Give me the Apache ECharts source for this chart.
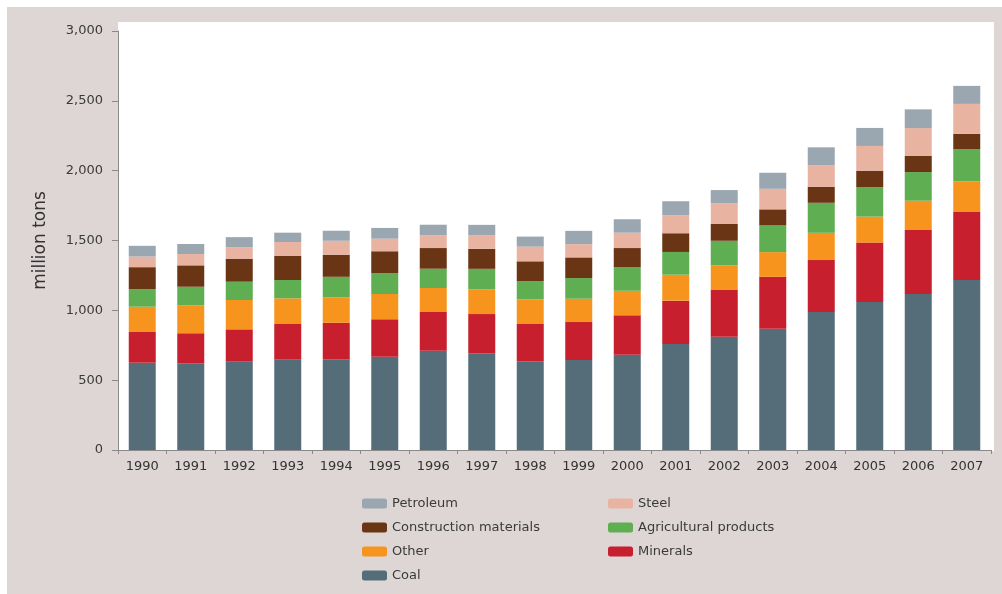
<!DOCTYPE html>
<html>
<head>
<meta charset="utf-8">
<script src="https://cdn.jsdelivr.net/npm/echarts@6/dist/echarts.min.js"></script>
<style>html,body{margin:0;padding:0;background:#fff;}#c{width:1002px;height:594px;}</style>
</head>
<body>
<div id="c"></div>
<script>
var years = ['1990','1991','1992','1993','1994','1995','1996','1997','1998','1999','2000','2001','2002','2003','2004','2005','2006','2007'];
var coal = [625,621,632,649,649,668,711,692,635,644,682,759,811,868,988,1060,1117,1217];
var minerals = [220,215,232,253,262,268,277,281,267,272,282,310,339,372,372,425,458,487];
var other = [181,200,210,184,182,181,172,177,177,167,176,186,172,177,195,186,210,220];
var agricultural = [125,133,131,131,147,148,138,147,129,148,168,163,176,191,215,210,205,229];
var construction = [158,153,165,172,158,158,148,143,143,148,138,134,120,115,115,119,115,110];
var steel = [76,81,82,100,100,90,91,96,105,95,110,129,148,147,153,177,200,215];
var petroleum = [77,72,72,67,72,77,76,76,72,95,96,100,95,115,129,129,134,129];
var yTicks = [0,500,1000,1500,2000,2500,3000];

var colors = {
  'Coal':'#546d79',
  'Minerals':'#c71f2e',
  'Other':'#f7941e',
  'Agricultural products':'#5fae52',
  'Construction materials':'#6a3514',
  'Steel':'#e9b3a2',
  'Petroleum':'#9aa6b0'
};
var seriesDefs = [
  ['Coal', coal],
  ['Minerals', minerals],
  ['Other', other],
  ['Agricultural products', agricultural],
  ['Construction materials', construction],
  ['Steel', steel],
  ['Petroleum', petroleum]
];
var font = 'DejaVu Sans';
var chart = echarts.init(document.getElementById('c'), null, {renderer:'canvas'});
chart.setOption({
  backgroundColor:'#ffffff',
  animation:false,
  textStyle:{fontFamily:font},
  graphic:[
    {type:'rect', z:-100, silent:true, shape:{x:7,y:7,width:995,height:587}, style:{fill:'#ddd6d4'}},
    {type:'rect', z:-99, silent:true, shape:{x:118,y:22,width:876,height:429}, style:{fill:'#ffffff'}}
  ],
  legend:[
    {orient:'vertical', left:357, top:492, itemWidth:25, itemHeight:10, itemGap:11,
     data:['Petroleum','Construction materials','Other','Coal'],
     textStyle:{fontFamily:font, fontSize:13, color:'#3a3a3a'}},
    {orient:'vertical', left:603, top:492, itemWidth:25, itemHeight:10, itemGap:11,
     data:['Steel','Agricultural products','Minerals'],
     textStyle:{fontFamily:font, fontSize:13, color:'#3a3a3a'}}
  ],
  grid:{left:118, right:11, top:31, bottom:144, containLabel:false},
  xAxis:{
    type:'category', data:years, boundaryGap:true,
    axisLine:{lineStyle:{color:'#8a8a8a', width:1}},
    axisTick:{show:true, length:4, alignWithLabel:false, lineStyle:{color:'#8a8a8a'}},
    axisLabel:{fontFamily:font, fontSize:13, color:'#333', margin:10}
  },
  yAxis:{
    type:'value', min:yTicks[0], max:yTicks[yTicks.length-1], interval:500,
    name:'million tons', nameLocation:'middle', nameGap:69, nameRotate:90,
    nameTextStyle:{fontFamily:font, fontSize:17, color:'#333'},
    axisLine:{show:true, lineStyle:{color:'#8a8a8a'}},
    axisTick:{show:true, length:6, lineStyle:{color:'#8a8a8a'}},
    splitLine:{show:false},
    axisLabel:{fontFamily:font, fontSize:13, color:'#3a3a3a', margin:15,
      formatter:function(v){return v.toLocaleString('en-US');}}
  },
  series: seriesDefs.map(function(d){
    return {name:d[0], type:'bar', stack:'total', data:d[1], barWidth:27,
      itemStyle:{color:colors[d[0]]}};
  })
});
</script>
</body>
</html>
